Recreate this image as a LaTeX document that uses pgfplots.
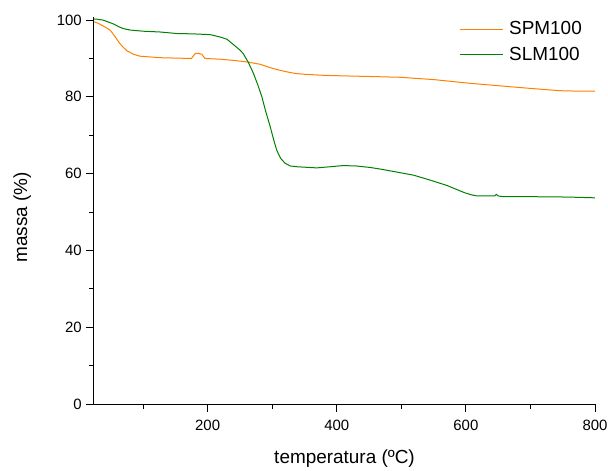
\documentclass[border=0pt]{standalone}
\usepackage{fontspec}
\setmainfont{Liberation Sans}
\usepackage{pgfplots}
\pgfplotsset{compat=1.18}
\definecolor{cOrange}{RGB}{255,128,0}
\definecolor{cGreen}{RGB}{0,128,0}
\begin{document}
\begin{tikzpicture}
\begin{axis}[
  name=ax,
  scale only axis,
  width=501bp, height=387bp,
  xmin=24, xmax=800, ymin=0, ymax=100.8,
  axis lines*=left,
  axis line style={line width=1bp},
  tick style={line width=1bp, black},
  tick align=outside,
  major tick length=8bp,
  minor tick length=4.5bp,
  xtick={200,400,600,800},
  minor xtick={100,300,500,700},
  ytick={0,20,40,60,80,100},
  minor ytick={10,30,50,70,90},
  /pgf/number format/assume math mode=true,
  ticklabel style={font=\fontsize{15}{18}\selectfont, inner sep=0pt},
  xticklabel style={yshift=-8bp},
  yticklabel style={xshift=-4bp},
  xlabel={temperatura (ºC)},
  ylabel={massa (\%)},
  label style={font=\fontsize{19}{23}\selectfont},
  xlabel style={at={(axis description cs:0.5,0)}, anchor=base, yshift=-59bp},
  ylabel style={at={(axis description cs:-0.1337,0.483)}, anchor=base},
  legend style={draw=none, fill=none, at={(axis description cs:0.7285,0.991)}, anchor=north west, inner sep=0pt, row sep=9bp, font=\fontsize{19}{23}\selectfont, nodes={inner sep=1bp}, /tikz/every odd column/.append style={column sep=5bp}},
  legend cell align=left,
  legend image code/.code={\draw[#1] (0bp,0bp) -- (43bp,0bp);},
  every axis plot/.append style={line width=1bp},
]
\addplot[cOrange, mark=none] coordinates {
(23,99.6) (30,99.2) (40,98.3) (49,97.4) (57,95.6) (64,93.9) (70,92.8) (75,92.0)
(85,91.1) (95,90.6) (110,90.4) (126,90.2) (150,90.1) (175,90.0) (178,90.7) (181,91.3)
(186,91.3) (191,91.1) (194,90.4) (196,90.0) (220,89.8) (240,89.5) (261,89.1) (281,88.5)
(297,87.6) (310,87.0) (323,86.5) (336,86.1) (348,85.9) (380,85.6) (426,85.4) (452,85.3)
(498,85.1) (550,84.5) (602,83.6) (650,82.9) (700,82.2) (746,81.6) (770,81.5) (800,81.5)
};
\addlegendentry{SPM100}
\addplot[cGreen, mark=none] coordinates {
(23,100.3) (30,100.2) (38,100.0) (46,99.5) (54,99.0) (62,98.3) (69,97.8) (80,97.4)
(100,97.1) (126,96.9) (152,96.5) (178,96.4) (204,96.2) (219,95.6) (230,95.0) (240,93.6)
(250,92.2) (255,91.3) (263,89.0) (271,86.1) (278,83.0) (284,80.0) (290,76.2) (297,72.2)
(302,69.0) (307,66.1) (313,64.0) (320,62.7) (328,62.0) (338,61.8) (369,61.5) (390,61.8)
(410,62.1) (430,62.0) (452,61.6) (467,61.2) (490,60.5) (519,59.6) (545,58.3) (571,56.9)
(597,55.1) (608,54.5) (617,54.2) (645,54.2) (647,54.6) (650,54.2) (657,54.0) (700,54.0)
(759,53.9) (800,53.7)
};
\addlegendentry{SLM100}
\end{axis}
\path ([xshift=-94bp,yshift=-64bp]ax.south west) rectangle ([xshift=13bp,yshift=17bp]ax.north east);
\end{tikzpicture}
\end{document}
